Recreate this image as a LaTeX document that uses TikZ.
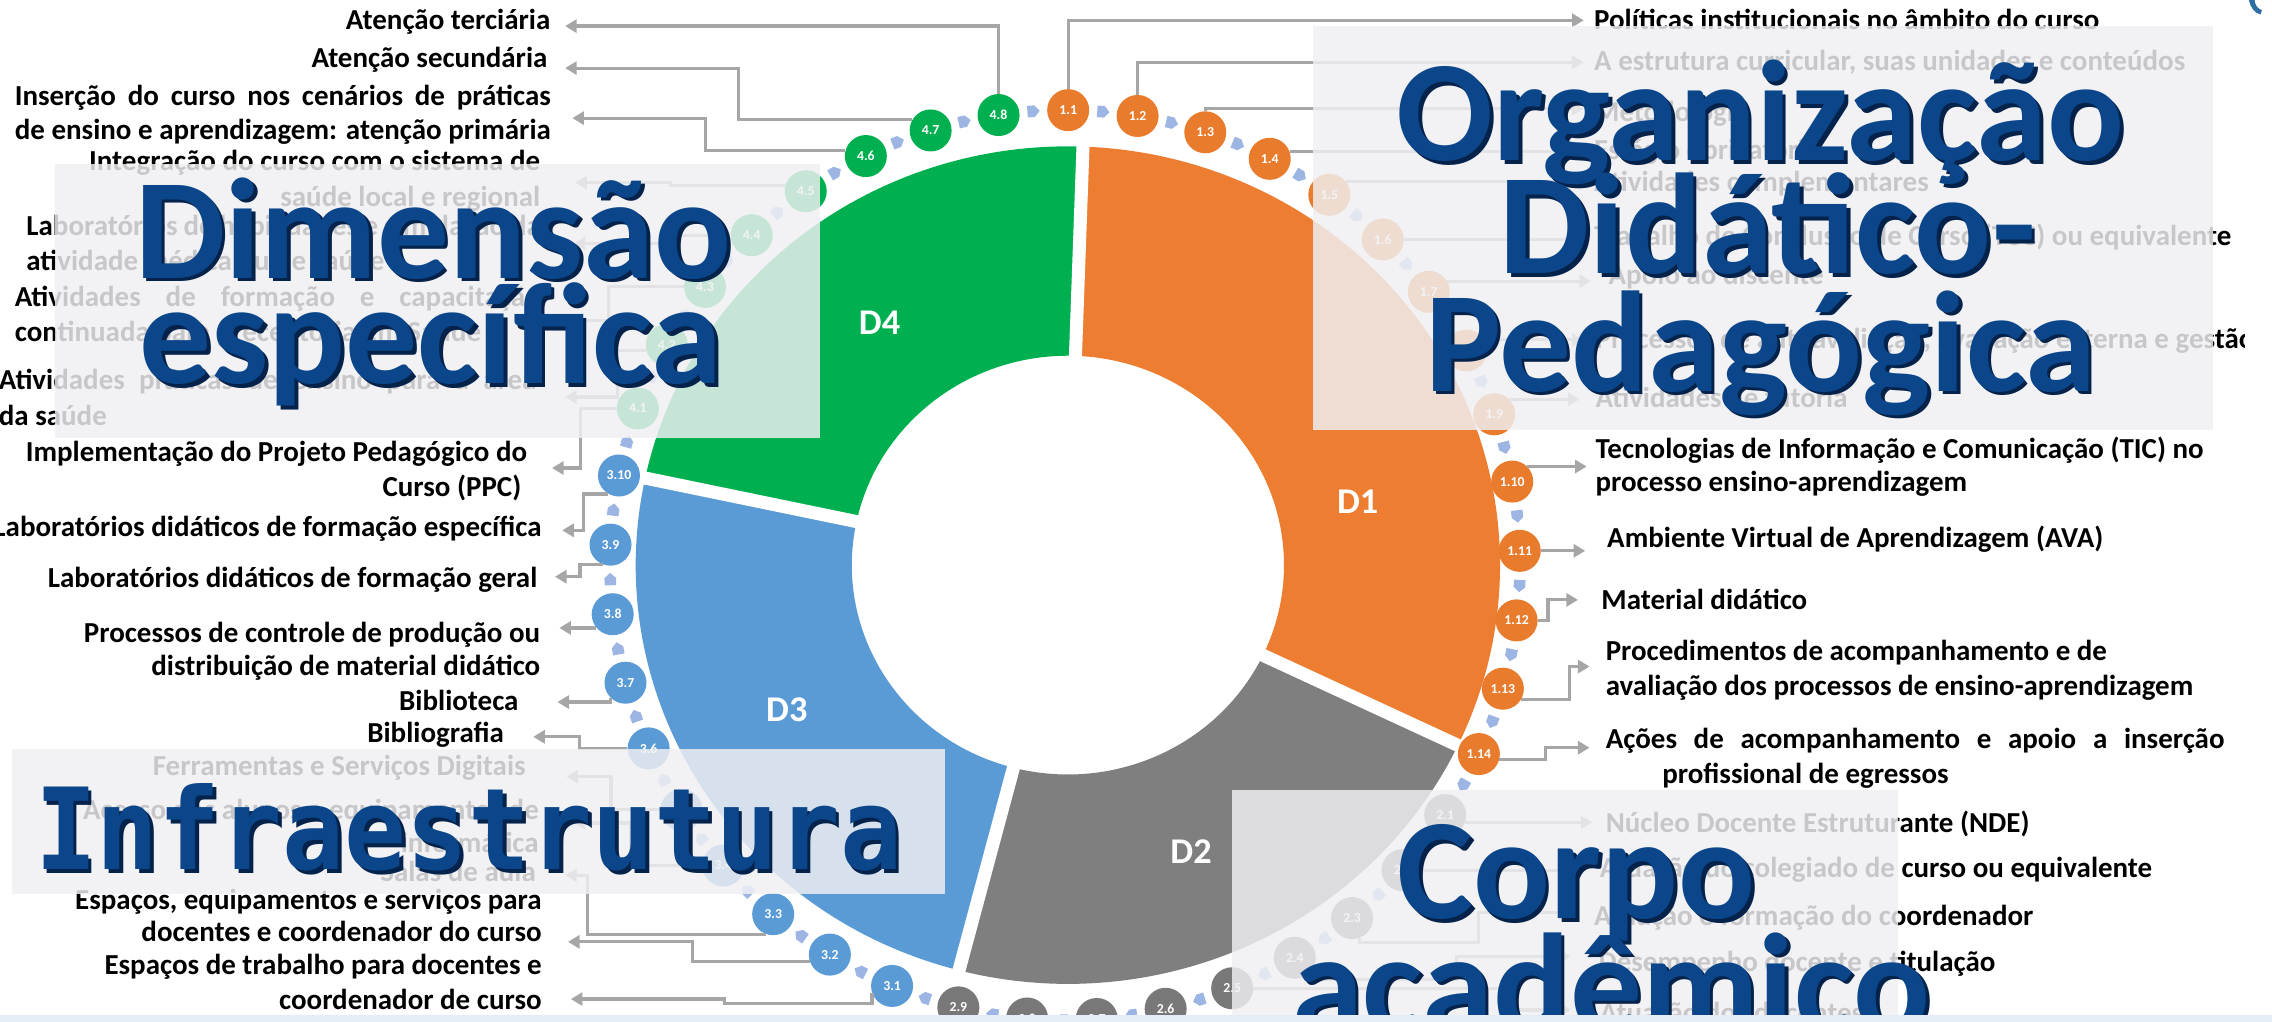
\documentclass[tikz,border=0pt]{standalone}
\usepackage{graphicx}
\usepackage{fontspec}
\setmainfont{Carlito}
\newfontfamily\monofam{DejaVu Sans Mono}
\usetikzlibrary{arrows.meta,calc}
\definecolor{cOr}{HTML}{ED7D31}
\definecolor{cOrC}{HTML}{E97B2C}
\definecolor{cGr}{HTML}{00B050}
\definecolor{cBl}{HTML}{5B9BD5}
\definecolor{cGy}{HTML}{7F7F7F}
\definecolor{cGyC}{HTML}{787878}
\definecolor{cLine}{HTML}{A6A6A6}
\definecolor{cChev}{HTML}{9DB5E3}
\definecolor{cOver}{HTML}{F0F0F3}
\definecolor{cTitle}{HTML}{0B468A}
\definecolor{cShade}{HTML}{05224A}
\definecolor{cStrip}{HTML}{E4EDF6}
\definecolor{cDeco}{HTML}{2E6DA4}
\newcommand\jbox[2]{\makebox[#1pt][s]{#2}}
\newcommand\ttlnode[6][ttl]{%
  \node[#1,text=cShade,anchor=#5] at ($(#3,#4)+(2.5,2.5)$) {#6};
  \node[#1,text=cTitle,anchor=#5] (#2) at (#3,#4) {#6};}
\begin{document}
\begin{tikzpicture}[x=1pt,y=-1pt,
  lbl/.style={font=\bfseries\fontsize{20}{23.5}\selectfont, inner sep=0pt, text=black},
  lr/.style={lbl, anchor=base east},
  ll/.style={lbl, anchor=base west},
  conn/.style={draw=cLine, line width=2.2pt, -{Triangle[length=8pt,width=9pt]}},
  cir/.style={circle, minimum size=29pt, inner sep=0pt, text=white, font=\bfseries\fontsize{9.5}{10}\selectfont},
  dlab/.style={text=white, font=\bfseries\fontsize{25}{28}\selectfont},
  cover/.style={fill=cOver, fill opacity=0.83},
  ttl/.style={font=\bfseries\fontsize{99}{100}\selectfont, inner sep=0pt},
  ttlm/.style={font=\monofam\bfseries\fontsize{71}{72}\selectfont, inner sep=0pt}]
\useasboundingbox (0,0) rectangle (1568,705);
\fill[white] (0,0) rectangle (1568,705);
\coordinate (C) at (737,390);
\coordinate (R) at (735,390);

% donut segments (slightly wider than tall)
\begin{scope}[shift={(C)},xscale=1.032]
\fill[cOr] (-88:289) arc[start angle=-88,end angle=25.5,radius=289] -- (25.5:144.5) arc[start angle=25.5,end angle=-88,radius=144.5] -- cycle;
\fill[cGy] (25.5:289) arc[start angle=25.5,end angle=104.6,radius=289] -- (104.6:144.5) arc[start angle=104.6,end angle=25.5,radius=144.5] -- cycle;
\fill[cBl] (104.6:289) arc[start angle=104.6,end angle=192,radius=289] -- (192:144.5) arc[start angle=192,end angle=104.6,radius=144.5] -- cycle;
\fill[cGr] (192:289) arc[start angle=192,end angle=272,radius=289] -- (272:144.5) arc[start angle=272,end angle=192,radius=144.5] -- cycle;
\foreach \a in {-88,25.5,104.6,192} \draw[white,line width=9pt] (\a:136) -- (\a:297);
\end{scope}

\node[dlab] (d4) at (607,223) {D4};
\node[dlab] (d1) at (937,346) {D1};
\node[dlab] (d3) at (543,490) {D3};
\node[dlab] (d2) at (822,588) {D2};

% chevrons
\foreach \k in {0,...,40}{
  \pgfmathsetmacro\chang{89.6-8.78*(\k+0.5)}
  \fill[cChev,shift={(R)},rotate=\chang] (310,-4) -- (318,-4) -- (318,1) -- (314,4.5) -- (310,1) -- cycle;
}

% circles
\foreach \n in {1,...,14}{\pgfmathsetmacro\ang{8.78*(\n-1)-89.6}
  \node[cir,fill=cOrC] (c1-\n) at ($(R)+(\ang:314)$) {1.\n};}
\foreach \n in {1,...,9}{\pgfmathsetmacro\ang{8.78*(\n+13)-89.6}
  \node[cir,fill=cGyC] (c2-\n) at ($(R)+(\ang:314)$) {2.\n};}
\foreach \n in {1,...,10}{\pgfmathsetmacro\ang{8.78*(\n+22)-89.6}
  \node[cir,fill=cBl] (c3-\n) at ($(R)+(\ang:314)$) {3.\n};}
\foreach \n in {1,...,8}{\pgfmathsetmacro\ang{8.78*(\n+32)-89.6}
  \node[cir,fill=cGr] (c4-\n) at ($(R)+(\ang:314)$) {4.\n};}

% arrow end points
\coordinate (a4-8) at (390,18);
\coordinate (a4-7) at (390,47);
\coordinate (a4-6) at (395,81.5);
\coordinate (a4-5) at (397,126);
\coordinate (a4-4) at (396,168);
\coordinate (a4-3) at (385,221);
\coordinate (a4-2) at (390,274);
\coordinate (a4-1) at (381,323);
\coordinate (a3-10) at (388,366);
\coordinate (a3-9) at (383,398);
\coordinate (a3-8) at (386,433.2);
\coordinate (a3-7) at (384.7,484.5);
\coordinate (a3-6) at (368,508.5);
\coordinate (a3-5) at (391,536);
\coordinate (a3-4) at (396,568);
\coordinate (a3-3) at (390,604);
\coordinate (a3-2) at (392,650);
\coordinate (a3-1) at (394,689.5);
\coordinate (a2-1) at (1099,567.5);
\coordinate (a2-2) at (1095,600.5);
\coordinate (a2-3) at (1084,630);
\coordinate (a2-4) at (1084,660);
\coordinate (a2-5) at (1084,697);
\coordinate (a1-1) at (1093,14);
\coordinate (a1-2) at (1093,43);
\coordinate (a1-3) at (1093,75);
\coordinate (a1-4) at (1090,105);
\coordinate (a1-5) at (1090,125);
\coordinate (a1-6) at (1090,165);
\coordinate (a1-7) at (1098,194);
\coordinate (a1-8) at (1093,235);
\coordinate (a1-9) at (1090,276);
\coordinate (a1-10) at (1095,322);
\coordinate (a1-11) at (1094,380);
\coordinate (a1-12) at (1089,414);
\coordinate (a1-13) at (1097,460);
\coordinate (a1-14) at (1097,516);

% connectors D4
\draw[conn] (c4-8.north) |- (a4-8);
\draw[conn] (c4-7.150) -- ++(-119.6,0) |- (a4-7);
\draw[conn] (c4-6.165) -- ++(-96.5,0) |- (a4-6);
\draw[conn] (c4-5.165) -- ++(-79,0) |- (a4-5);
\draw[conn] (c4-4.west) -- ++(-45,0) |- (a4-4);
\draw[conn] (c4-3.west) -- ++(-52,0) |- (a4-3);
\draw[conn] (c4-2.195) -- ++(-20,0) |- (a4-2);
\draw[conn] (c4-1.west) -- ++(-24.7,0) |- (a4-1);
% D3
\draw[conn] (c3-10.-120) -- ++(-17,0) |- (a3-10);
\draw[conn] (c3-9.-110) -- ++(-16,0) |- (a3-9);
\draw[conn] (c3-8.-140) -- (c3-8.-140 -| a3-8);
\draw[conn] (c3-7.-135) |- (a3-7);
\draw[conn] (c3-6.west) -- ++(-33,0) |- (a3-6);
\draw[conn] (c3-5.west) -- ++(-34,0) |- (a3-5);
\draw[conn] (c3-4.west) -- ++(-49,0) |- (a3-4);
\draw[conn] (c3-3.-110) -- ++(-123,0) |- (a3-3);
\draw[conn] (c3-2.-160) -- ++(-81,0) |- (a3-2);
\draw[conn] (c3-1.-160) |- ++(-102,7) |- (a3-1);
% D2
\draw[conn] (c2-1.-20) -- (c2-1.-20 -| a2-1);
\draw[conn] (c2-2.east) -- (c2-2.east -| a2-2);
\draw[conn] (c2-3.-70) |- ++(82,3) |- (a2-3);
\draw[conn] (c2-4.-60) |- ++(104,2.5) |- (a2-4);
\draw[conn] (c2-5.east) -- ++(180,0) |- (a2-5);
% D1
\draw[conn] (c1-1.north) |- (a1-1);
\draw[conn] (c1-2.north) |- (a1-2);
\draw[conn] (c1-3.north) |- (a1-3);
\draw[conn] (c1-4.20) -- (c1-4.20 -| a1-4);
\draw[conn] (c1-5.40) -- (c1-5.40 -| a1-5);
\draw[conn] (c1-6.east) -- (c1-6.east -| a1-6);
\draw[conn] (c1-7.30) -- (c1-7.30 -| a1-7);
\draw[conn] (c1-8.30) -- (c1-8.30 -| a1-8);
\draw[conn] (c1-9.45) -- (c1-9.45 -| a1-9);
\draw[conn] (c1-10.45) -- (c1-10.45 -| a1-10);
\draw[conn] (c1-11.east) -- (c1-11.east -| a1-11);
\draw[conn] (c1-12.east) -- ++(7,0) |- (a1-12);
\draw[conn] (c1-13.-30) -- ++(33,0) |- (a1-13);
\draw[conn] (c1-14.-15) -- ++(32,0) |- (a1-14);

% left texts
\node[lr] (t4-8) at (380,20.5) {Atenção terciária};
\node[lr] (t4-7) at (378,46.5) {Atenção secundária};
\node[ll] (t4-6a) at (10,72.5) {\jbox{370}{Inserção do curso nos cenários de práticas}};
\node[ll] (t4-6b) at (10,96.5) {\jbox{370}{de ensino e aprendizagem: atenção primária}};
\node[lr] (t4-5a) at (373,117.5) {Integração do curso com o sistema de};
\node[lr] (t4-5b) at (373,142.5) {saúde local e regional};
\node[ll] (t4-4a) at (18,162.5) {\jbox{355}{Laboratórios de habilidades e simulação da}};
\node[ll] (t4-4b) at (18,186.5) {atividade médica ou de saúde};
\node[ll] (t4-3a) at (10,211.5) {\jbox{363}{Atividades de formação e capacitação}};
\node[ll] (t4-3b) at (10,235.5) {continuada para preceptoria em Saúde};
\node[ll] (t4-2a) at (-1,268.5) {\jbox{371}{Atividades práticas de ensino para a área}};
\node[ll] (t4-2b) at (-1,293.5) {da saúde};
\node[lr] (t4-1a) at (364,318.5) {Implementação do Projeto Pedagógico do};
\node[lr] (t4-1b) at (360,342.5) {Curso (PPC)};
\node[lr] (t3-10) at (374,370) {Laboratórios didáticos de formação específica};
\node[lr] (t3-9) at (371,405.5) {Laboratórios didáticos de formação geral};
\node[lr] (t3-8a) at (373,443.5) {Processos de controle de produção ou};
\node[lr] (t3-8b) at (373,466.5) {distribuição de material didático};
\node[lr] (t3-7) at (358,490.5) {Biblioteca};
\node[lr] (t3-6) at (348,512.5) {Bibliografia};
\node[lr] (t3-5) at (363,535.5) {Ferramentas e Serviços Digitais};
\node[lr] (t3-4a) at (372,565.5) {Acesso dos alunos a equipamentos de};
\node[lr] (t3-4b) at (372,588.5) {informática};
\node[lr] (t3-3) at (370,608.5) {Salas de aula};
\node[lr] (t3-2a) at (374,627.5) {Espaços, equipamentos e serviços para};
\node[lr] (t3-2b) at (374,649.5) {docentes e coordenador do curso};
\node[lr] (t3-1a) at (374,672.5) {Espaços de trabalho para docentes e};
\node[lr] (t3-1b) at (374,696.5) {coordenador de curso};

% right texts
\node[ll] (t1-1) at (1100,20.5) {Políticas institucionais no âmbito do curso};
\node[ll] (t1-2) at (1100,48.5) {A estrutura curricular, suas unidades e conteúdos};
\node[ll] (t1-3) at (1100,84) {Metodologia};
\node[ll] (t1-4) at (1100,110) {Estágio obrigatório};
\node[ll] (t1-5) at (1100,132.5) {Atividades complementares};
\node[ll] (t1-6) at (1100,169.5) {Trabalho de Conclusão de Curso (TCC) ou equivalente};
\node[ll] (t1-7) at (1110,196.5) {Apoio ao discente};
\node[ll] (t1-8) at (1101,240.5) {Processos de autoavaliação, avaliação externa e gestão};
\node[ll] (t1-9) at (1101,281.5) {Atividades de tutoria};
\node[ll] (t1-10a) at (1101,316.5) {Tecnologias de Informação e Comunicação (TIC) no};
\node[ll] (t1-10b) at (1101,339.5) {processo ensino-aprendizagem};
\node[ll] (t1-11) at (1109,377.5) {Ambiente Virtual de Aprendizagem (AVA)};
\node[ll] (t1-12) at (1105,420.5) {Material didático};
\node[ll] (t1-13a) at (1108,456) {Procedimentos de acompanhamento e de};
\node[ll] (t1-13b) at (1108,480) {avaliação dos processos de ensino-aprendizagem};
\node[ll] (t1-14a) at (1108,516.5) {\jbox{427}{Ações de acompanhamento e apoio a inserção}};
\node[ll] (t1-14b) at (1147,540.5) {profissional de egressos};
\node[ll] (t2-1) at (1108,574.5) {Núcleo Docente Estruturante (NDE)};
\node[ll] (t2-2) at (1104,605.5) {Atuação do colegiado de curso ou equivalente};
\node[ll] (t2-3) at (1100,638.5) {Atuação e formação do coordenador};
\node[ll] (t2-4) at (1103,670.5) {Desempenho docente e titulação};
\node[ll] (t2-5) at (1104,706) {Atuação dos docentes};

% overlays
\fill[cover] (38,113) rectangle (566,302);
\fill[cover] (906,18) rectangle (1527,297);
\fill[cover] (8,517) rectangle (652,617);
\fill[cover] (850,545) rectangle (1310,705);

% titles
\ttlnode{T1a}{1215}{111}{base}{Organização}
\ttlnode{T1b}{1220}{189}{base}{Didático-}
\ttlnode{T1c}{1215}{270}{base}{Pedagógica}
\ttlnode{T4a}{93}{192}{base west}{Dimensão}
\ttlnode{T4b}{96}{265}{base west}{específica}
\ttlnode[ttlm]{T3}{24}{600}{base west}{\scalebox{1}[1.1]{Infraestrutura}}
\ttlnode{T2a}{1088}{634}{base}{Corpo}
\ttlnode{T2b}{1112}{713}{base}{acadêmico}

% edges
\fill[white] (1549,0) rectangle (1568,700.5);
\fill[cDeco] (1552,0) .. controls (1553,5) and (1556,9) .. (1560,10) -- (1561,7) .. controls (1558,6) and (1556,3) .. (1556,0) -- cycle;
\fill[cStrip] (0,700.5) rectangle (1568,705);
\end{tikzpicture}
\end{document}
